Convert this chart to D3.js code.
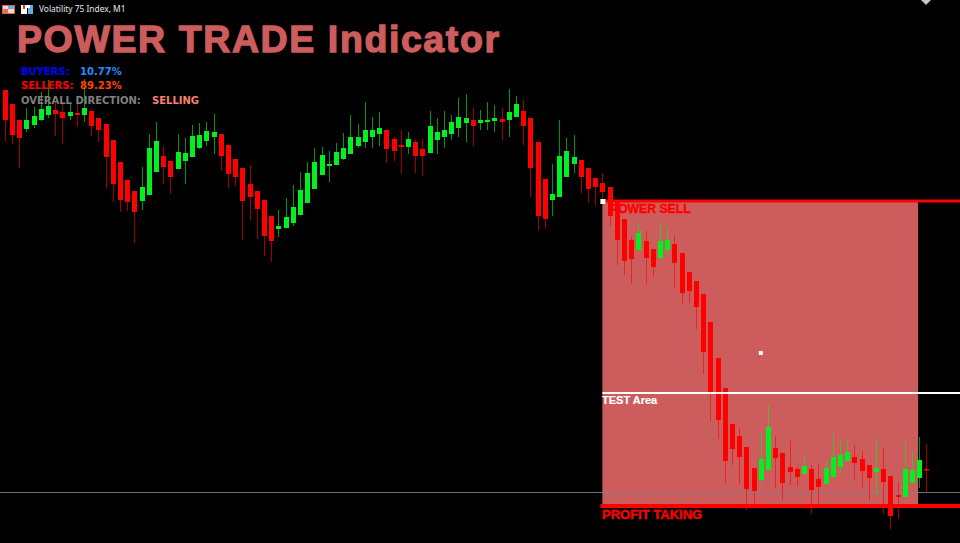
<!DOCTYPE html>
<html>
<head>
<meta charset="utf-8">
<script src="https://cdn.jsdelivr.net/npm/d3@7"></script>
<style>
  html, body { margin: 0; padding: 0; background: #000; overflow: hidden; }
</style>
</head>
<body>
<div id="chart"></div>
<script>
// candles, oldest first (price in chart points)
const opens = [510,496,480,471,475,480,485,490,488,484,487,485,489,482,476,460,438,420,409,399,
  405,428,444,439,431,439,443,452,459,463,466,455,441,432,416,409,400,384,371,372,
  377,385,397,411,425,434,435,441,446,454,458,463,466,470,461,455,453,458,451,447,
  460,463,466,472,477,480,477,478,479,481,480,483,489,482,458,421,400,403,423,436,
  440,432,422,417,413,400,381,360,350,359,351,342,350,356,347,328,319,306,278,242,
  212,176,164,153,132,120,130,152,147,133,131,126,131,121,116,123,133,139,143,141,
  135,128,131,124,105,103,117,122,131];
const highs = [510,496,480,492,493,508,520,498,497,498,502,521,489,482,476,460,438,420,409,433,
  466,478,454,439,466,462,475,477,478,486,466,455,441,432,435,409,400,384,390,402,
  415,428,438,452,453,449,457,467,485,476,498,483,488,470,463,470,468,460,461,489,
  482,489,485,502,506,492,490,498,495,492,511,504,500,482,458,421,436,480,462,465,
  440,432,422,427,413,400,381,363,378,369,351,378,373,365,347,328,319,306,278,242,
  212,176,172,153,132,168,195,164,147,160,133,144,135,137,139,167,161,159,155,149,
  135,160,152,124,118,159,148,163,156];
const lows = [459,456,432,468,472,479,482,464,456,480,473,478,464,458,412,398,388,389,357,390,
  405,428,416,406,431,416,443,451,454,446,429,412,414,360,380,361,344,338,363,372,
  374,385,397,411,425,418,435,440,446,452,452,452,454,437,439,426,446,427,424,447,
  446,452,460,463,458,454,470,470,468,460,463,483,455,403,370,372,384,403,423,427,
  407,397,395,399,374,335,325,316,350,316,323,342,345,311,296,297,271,226,179,161,
  117,135,116,90,96,115,130,112,100,115,114,126,86,97,116,123,128,139,120,112,
  99,105,86,71,81,103,117,112,108];
const closes = [480,465,462,480,484,491,494,486,482,488,485,492,474,470,443,416,400,398,388,413,
  452,459,433,423,448,447,464,465,469,468,444,426,423,399,403,391,364,359,374,383,
  393,410,427,438,445,436,448,452,463,463,470,470,472,451,449,453,461,444,444,474,
  468,470,478,483,482,474,480,480,482,478,488,496,474,432,384,381,406,444,449,443,
  423,411,413,408,384,360,339,341,367,342,333,359,360,337,307,309,293,248,208,180,
  139,151,143,111,109,141,173,142,117,128,123,134,110,113,132,143,145,148,137,129,
  122,132,118,84,103,131,130,140,130];

// zone levels and zone span in bars
const powerSellLevel = 399;
const testAreaLevel = 207;
const profitLevel = 94;
const bidLevel = 108;
const tickLevel = 247;
const zoneBars = [83, 126.85];
const tickBar = 105;

const width = 960, height = 543;

const svg = d3.select("#chart").append("svg")
  .attr("width", width)
  .attr("height", height)
  .style("display", "block")
  .style("background", "#000");

const x = d3.scaleLinear().domain([0, opens.length - 1]).range([4.8, 926.4]);
const y = d3.scaleLinear().domain([57, 600]).range([543, 0]);

const red = "#ff0000", green = "#00f020";
const zoneFill = "#cd5c5c";

// zone box goes under the candles
svg.append("rect")
  .attr("x", x(zoneBars[0]))
  .attr("y", y(powerSellLevel))
  .attr("width", x(zoneBars[1]) - x(zoneBars[0]))
  .attr("height", y(profitLevel) - y(powerSellLevel))
  .attr("fill", zoneFill);

// current price line
svg.append("line")
  .attr("x1", 0).attr("x2", width)
  .attr("y1", y(bidLevel)).attr("y2", y(bidLevel))
  .attr("stroke", "#808090")
  .attr("stroke-opacity", 0.85)
  .attr("stroke-width", 1)
  .style("shape-rendering", "crispEdges");

const bars = d3.range(opens.length);

svg.append("g").selectAll("line")
  .data(bars)
  .enter()
  .append("line")
  .attr("x1", i => Math.round(x(i)) + 0.5)
  .attr("x2", i => Math.round(x(i)) + 0.5)
  .attr("y1", i => y(highs[i]))
  .attr("y2", i => y(lows[i]))
  .attr("stroke", i => closes[i] >= opens[i] ? green : red)
  .attr("stroke-opacity", 0.62)
  .attr("stroke-width", 1);

svg.append("g").selectAll("rect")
  .data(bars)
  .enter()
  .append("rect")
  .attr("x", i => Math.round(x(i)) - 2)
  .attr("width", 5)
  .attr("y", i => y(Math.max(opens[i], closes[i])))
  .attr("height", i => Math.max(1.5, Math.abs(y(opens[i]) - y(closes[i]))))
  .attr("fill", i => closes[i] >= opens[i] ? green : red);

// zone lines
function level(val, from, sw, color) {
  svg.append("line")
    .attr("x1", from).attr("x2", width)
    .attr("y1", y(val)).attr("y2", y(val))
    .attr("stroke", color)
    .attr("stroke-width", sw);
}
level(powerSellLevel, x(zoneBars[0]), 3, red);
level(testAreaLevel, x(zoneBars[0]), 2, "#fff");
level(profitLevel, x(zoneBars[0]) - 2, 4, red);

// little selection handles
svg.append("rect")
  .attr("x", x(zoneBars[0]) - 2).attr("y", y(powerSellLevel) - 2)
  .attr("width", 5).attr("height", 5)
  .attr("fill", "#fff");
svg.append("rect")
  .attr("x", x(tickBar) - 2).attr("y", y(tickLevel) - 2)
  .attr("width", 4).attr("height", 4)
  .attr("fill", "#fff");

// thick = extra outline, the source text is a heavier face than we have here
function label(txt, px, py, size, color, family, weight, thick, spacing) {
  svg.append("text")
    .attr("x", px).attr("y", py)
    .attr("font-family", family)
    .attr("font-size", size)
    .attr("font-weight", weight || "bold")
    .attr("fill", color)
    .attr("stroke", thick ? color : "none")
    .attr("stroke-width", thick || 0)
    .attr("letter-spacing", spacing || 0)
    .text(txt);
}

const arial = "'Liberation Sans', Arial, sans-serif";
const verdana = "'DejaVu Sans', Verdana, sans-serif";

label("POWER TRADE Indicator", 17, 52, 37.5, zoneFill, arial, "bold", 1.3, 1.6);
label("Volatility 75 Index, M1", 39, 12, 8.4, "#e8e8e8", "'Noto Sans', sans-serif", "normal");

label("BUYERS:", 21, 75, 10, "#0000ff", verdana);
label("10.77%", 80, 75, 10, "#1e90ff", verdana);
label("SELLERS:", 21, 89, 10, "#ff0000", verdana);
label("89.23%", 80, 89, 10, "#ff4500", verdana);
label("OVERALL DIRECTION:", 21, 104, 10, "#808080", verdana);
label("SELLING", 152, 104, 10, "#fa8072", verdana);

label("POWER SELL", 610, 213, 12.2, red, arial, "bold", 0.4);
label("TEST Area", 602, 404, 11, "#fff", arial, "bold", 0.2);
label("PROFIT TAKING", 602, 519, 13, red, arial, "bold", 0.4);

// window icons top left
const icon = svg.append("g");
icon.append("rect").attr("x", 2.5).attr("y", 5.5).attr("width", 12).attr("height", 8)
  .attr("fill", "#f4d8c8").attr("stroke", "#e06050");
icon.append("rect").attr("x", 8).attr("y", 6).attr("width", 6).attr("height", 3).attr("fill", "#6aa8e0");
icon.append("rect").attr("x", 3).attr("y", 9).attr("width", 5).attr("height", 4).attr("fill", "#e8705a");
icon.append("rect").attr("x", 21).attr("y", 5).attr("width", 6).attr("height", 9).attr("fill", "#fff");
icon.append("rect").attr("x", 23).attr("y", 5).attr("width", 2).attr("height", 4).attr("fill", "#d04030");
icon.append("rect").attr("x", 28).attr("y", 5).attr("width", 5).attr("height", 9).attr("fill", "#60b0e8");
icon.append("rect").attr("x", 27).attr("y", 5).attr("width", 3).attr("height", 3).attr("fill", "#fff");

// scroll marker at the top right
svg.append("path")
  .attr("d", d3.line()([[921, 0], [931, 0], [926, 5]]) + "Z")
  .attr("fill", "#c0c8d0");
</script>
</body>
</html>
